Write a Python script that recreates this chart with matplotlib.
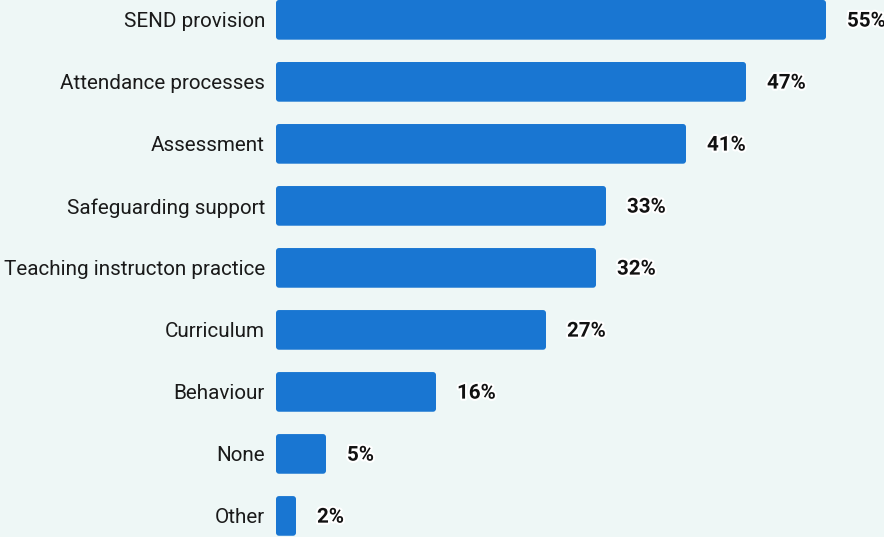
import matplotlib
matplotlib.use("Agg")
import matplotlib.pyplot as plt
import matplotlib.patheffects as pe
from matplotlib.patches import FancyBboxPatch

# Areas of support, share of respondents (%)
categories = [
    "SEND provision",
    "Attendance processes",
    "Assessment",
    "Safeguarding support",
    "Teaching instructon practice",
    "Curriculum",
    "Behaviour",
    "None",
    "Other",
]
shares = [55, 47, 41, 33, 32, 27, 16, 5, 2]

plt.rcParams["font.family"] = ["Roboto", "DejaVu Sans"]

bg = "#eef7f6"
bar_col = "#1976d2"

fig = plt.figure(figsize=(8.84, 5.37), dpi=100, facecolor=bg)
ax = fig.add_axes([276 / 884, 0, 608 / 884, 1])
ax.set_facecolor(bg)

ypos = list(range(len(categories)))
bar_h = 0.64
ax.set_xlim(0, 60.8)
ax.set_ylim(8.34, -0.32)

# rounded bars (10 px per unit in x, 62 px per unit in y)
for y, v in zip(ypos, shares):
    ax.add_patch(FancyBboxPatch((0, y - bar_h / 2), v, bar_h,
                                boxstyle="round,pad=0,rounding_size=0.3",
                                mutation_aspect=10 / 62,
                                facecolor=bar_col, edgecolor="none"))
    ax.text(v + 2.1, y + 0.02, f"{v}%", va="center", ha="left", fontsize=14.8,
            fontweight="bold", color="#111111",
            path_effects=[pe.withStroke(linewidth=3, foreground="white")])

ax.set_yticks(ypos)
ax.set_yticklabels(categories, fontsize=14.9, color="#1a1a1a")
ax.tick_params(axis="y", length=0, pad=8)
ax.set_xticks([])
for s in ax.spines.values():
    s.set_visible(False)

fig.savefig("out.png", dpi=100, facecolor=bg)
